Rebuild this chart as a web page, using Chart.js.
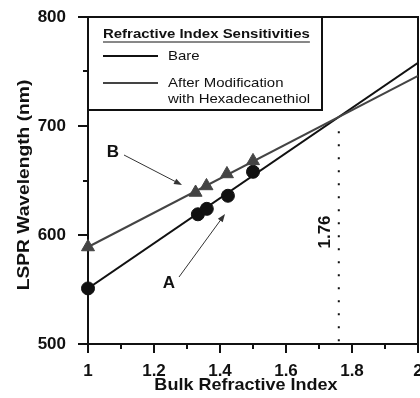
<!DOCTYPE html>
<html>
<head>
<meta charset="utf-8">
<script src="https://cdn.jsdelivr.net/npm/chart.js@4/dist/chart.umd.min.js"></script>
<style>
  html, body { margin: 0; padding: 0; background: #fff; }
  #wrap { position: relative; width: 420px; height: 398px; }
</style>
</head>
<body>
<div id="wrap"><canvas id="chart"></canvas></div>
<script>
// values
const bareX = [1.0, 1.333, 1.36, 1.424, 1.5];
const bareY = [551, 619, 624, 636, 658];
const modX = [1.0, 1.326, 1.359, 1.421, 1.5];
const modY = [589, 639, 645, 656, 668];
const fitX = [1, 2];
const bareFitY = [551, 758];
const modFitY = [589, 746];
const crossX = 1.76;
const crossY = 708;
const xTicks = [1, 1.2, 1.4, 1.6, 1.8, 2];
const yTicks = [500, 600, 700, 800];

const FONT = "'Liberation Sans', Arial, sans-serif";

const toPts = (xs, ys) => xs.map((x, i) => ({ x: x, y: ys[i] }));

function arrow(ctx, x1, y1, x2, y2) {
  const a = Math.atan2(y2 - y1, x2 - x1);
  ctx.beginPath();
  ctx.moveTo(x1, y1);
  ctx.lineTo(x2 - 6 * Math.cos(a), y2 - 6 * Math.sin(a));
  ctx.stroke();
  ctx.beginPath();
  ctx.moveTo(x2, y2);
  ctx.lineTo(x2 - 8 * Math.cos(a) + 3 * Math.sin(a), y2 - 8 * Math.sin(a) - 3 * Math.cos(a));
  ctx.lineTo(x2 - 8 * Math.cos(a) - 3 * Math.sin(a), y2 - 8 * Math.sin(a) + 3 * Math.cos(a));
  ctx.closePath();
  ctx.fill();
}

// text in the figure is a bit wider than the font
function wideText(ctx, txt, x, y, sx, rot) {
  ctx.save();
  ctx.translate(x, y);
  if (rot) ctx.rotate(rot);
  ctx.scale(sx || 1.15, 1);
  ctx.fillText(txt, 0, 0);
  ctx.restore();
  return ctx.measureText(txt).width * (sx || 1.15);
}

// frame, ticks, axis titles, legend box and notes
const decor = {
  id: 'decor',
  beforeDatasetsDraw(chart) {
    const { ctx, chartArea: a, scales } = chart;
    const xs = scales.x, ys = scales.y;
    ctx.save();
    ctx.strokeStyle = '#111';
    ctx.lineWidth = 2;
    ctx.strokeRect(a.left, a.top, a.right - a.left, a.bottom - a.top);

    // ticks
    ctx.beginPath();
    for (let v = 500; v <= 800; v += 50) {
      const y = Math.round(ys.getPixelForValue(v));
      ctx.moveTo(a.left, y);
      ctx.lineTo(a.left - (v % 100 === 0 ? 10 : 5), y);
    }
    for (let i = 0; i <= 10; i++) {
      const x = Math.round(xs.getPixelForValue(1 + i / 10));
      ctx.moveTo(x, a.bottom);
      ctx.lineTo(x, a.bottom + (i % 2 === 0 ? 9 : 5));
    }
    ctx.stroke();

    // axis titles
    ctx.fillStyle = '#111';
    ctx.font = 'bold 17px ' + FONT;
    ctx.textAlign = 'center';
    ctx.textBaseline = 'middle';
    wideText(ctx, 'Bulk Refractive Index', 246, 385, 1.06);
    wideText(ctx, 'LSPR Wavelength (nm)', 24, 185, 1.13, -Math.PI / 2);

    // dotted line at crossing
    const cx = xs.getPixelForValue(crossX);
    ctx.setLineDash([2, 11]);
    ctx.beginPath();
    ctx.moveTo(cx, ys.getPixelForValue(crossY) + 14);
    ctx.lineTo(cx, a.bottom);
    ctx.stroke();
    ctx.setLineDash([]);

    ctx.save();
    ctx.translate(cx - 13, 232);
    ctx.rotate(-Math.PI / 2);
    ctx.fillText('1.76', 0, 0);
    ctx.restore();

    // A / B notes
    ctx.fillText('B', 113, 152);
    ctx.fillText('A', 169, 283);
    ctx.lineWidth = 1;
    ctx.strokeStyle = '#333';
    ctx.fillStyle = '#333';
    arrow(ctx, 124, 155, 182, 185);
    arrow(ctx, 179, 277, 225, 214);

    // legend box
    ctx.fillStyle = '#fff';
    ctx.fillRect(a.left, a.top, 234, 93);
    ctx.lineWidth = 2;
    ctx.strokeStyle = '#111';
    ctx.strokeRect(a.left, a.top, 234, 93);
    ctx.fillStyle = '#111';
    ctx.textAlign = 'left';
    ctx.font = 'bold 13px ' + FONT;
    const tw = wideText(ctx, 'Refractive Index Sensitivities', 103, 34);
    ctx.lineWidth = 1;
    ctx.beginPath();
    ctx.moveTo(103, 42); ctx.lineTo(103 + tw, 42);
    ctx.stroke();
    ctx.font = '13px ' + FONT;
    ctx.lineWidth = 2;
    ctx.beginPath();
    ctx.moveTo(103, 56); ctx.lineTo(158, 56);
    ctx.stroke();
    wideText(ctx, 'Bare', 168, 56);
    ctx.strokeStyle = '#444';
    ctx.beginPath();
    ctx.moveTo(103, 83); ctx.lineTo(158, 83);
    ctx.stroke();
    wideText(ctx, 'After Modification', 168, 83);
    wideText(ctx, 'with Hexadecanethiol', 168, 99);
    ctx.restore();
  }
};

new Chart(document.getElementById('chart'), {
  type: 'scatter',
  data: {
    datasets: [
      {
        type: 'line', data: toPts(fitX, modFitY),
        borderColor: '#444', borderWidth: 2, pointRadius: 0
      },
      {
        type: 'line', data: toPts(fitX, bareFitY),
        borderColor: '#111', borderWidth: 2, pointRadius: 0
      },
      {
        data: toPts(modX, modY), pointStyle: 'triangle', pointRadius: 7.5,
        backgroundColor: '#444', borderColor: '#444', clip: false
      },
      {
        data: toPts(bareX, bareY), pointStyle: 'circle', pointRadius: 6.5,
        backgroundColor: '#111', borderColor: '#111', clip: false
      }
    ]
  },
  options: {
    responsive: true,
    maintainAspectRatio: false,
    animation: false,
    layout: { autoPadding: false, padding: { top: 17, right: 2, left: 0, bottom: 0 } },
    plugins: { legend: { display: false }, tooltip: { enabled: false } },
    scales: {
      x: {
        type: 'linear', min: 1, max: 2,
        afterBuildTicks: s => { s.ticks = xTicks.map(v => ({ value: v })); },
        afterFit: s => { s.height = 54; s.paddingLeft = 0; s.paddingRight = 0; },
        grid: { display: false }, border: { display: false },
        ticks: {
          padding: 9, color: '#111',
          font: { family: FONT, size: 17, weight: 'bold' },
          callback: v => String(v)
        },
        title: { display: false }
      },
      y: {
        min: 500, max: 800,
        afterBuildTicks: s => { s.ticks = yTicks.map(v => ({ value: v })); },
        afterFit: s => { s.width = 88; s.paddingTop = 0; s.paddingBottom = 0; },
        grid: { display: false }, border: { display: false },
        ticks: {
          padding: 14, color: '#111',
          font: { family: FONT, size: 17, weight: 'bold' }
        },
        title: { display: false }
      }
    }
  },
  plugins: [decor]
});
</script>
</body>
</html>
